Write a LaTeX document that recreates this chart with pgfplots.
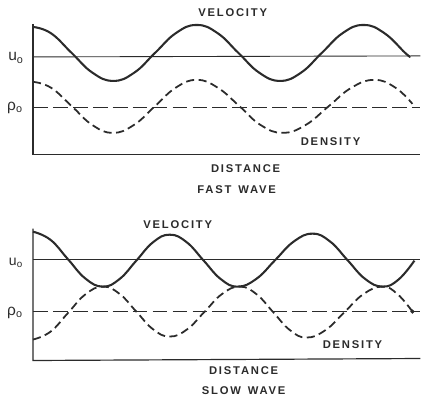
\documentclass[border=0pt]{standalone}
\usepackage{fontspec}
\setmainfont{Liberation Sans}
\newfontfamily\lab[LetterSpace=16]{Liberation Sans}
\usepackage{pgfplots}
\pgfplotsset{compat=1.18}
\definecolor{ink}{HTML}{2B2B2B}
\begin{document}
\begin{tikzpicture}
\begin{axis}[
    scale only axis,
    width=10cm, height=9.454cm,
    xmin=0, xmax=421, ymin=0, ymax=398,
    y dir=reverse,
    hide axis,
    clip=false,
    every axis plot/.append style={ink},
    nodes={font=\lab\bfseries\fontsize{7.6}{8}\selectfont, text=ink},
]
\path (axis cs:0,0) rectangle (axis cs:421,398);

% ---- fast wave: frame and reference lines
\addplot[line width=0.8pt] coordinates {(33,24) (33,155) (421,155)};
\addplot[line width=0.6pt] coordinates {(33,57) (421,56)};
\addplot[line width=0.6pt, dash pattern=on 10pt off 3.5pt] coordinates {(33,108) (421,108)};

% velocity (fast)
\addplot[line width=1.4pt, smooth, tension=0.75] coordinates {
    (33,27) (50.9,33.2) (71.75,53) (92.6,72.8) (113.5,81) (134.4,72.8)
    (155.25,53) (176.1,33.2) (197,25) (217.9,33.2) (238.75,53) (259.6,72.8)
    (280.5,81) (301.4,72.8) (322.25,53) (343.1,33.2) (364,25) (384.9,33.2)
    (405.75,53) (411,57)
};
% density (fast)
\addplot[line width=1.2pt, smooth, tension=0.75, dash pattern=on 5.5pt off 3pt] coordinates {
    (33,82) (51,87.8) (72,106.5) (92.5,125.2) (113,133) (134,125.2)
    (155,106.5) (176,87.8) (197,80) (218,87.8) (240,106.5) (261,125.2)
    (283,133) (306,125.2) (329,106.5) (352,87.8) (375,80) (396,87.8)
    (413,104)
};

\node at (axis cs:233,13) {VELOCITY};
\node at (axis cs:331,142) {DENSITY};
\node at (axis cs:246,169) {DISTANCE};
\node at (axis cs:237,190) {FAST\hspace{0.6em}WAVE};
\node[font=\fontsize{10.5}{10}\selectfont] at (axis cs:16,58) {u\textsubscript{o}};
\node[font=\fontsize{10.5}{10}\selectfont] at (axis cs:15,108) {ρ\textsubscript{o}};

% ---- slow wave: frame and reference lines
\addplot[line width=0.8pt] coordinates {(33,229) (33,361) (421,359)};
\addplot[line width=0.6pt] coordinates {(33,260) (421,260)};
\addplot[line width=0.6pt, dash pattern=on 10pt off 3.5pt] coordinates {(33,312) (421,312)};

% velocity (slow)
\addplot[line width=1.4pt, smooth, tension=0.75] coordinates {
    (33,232) (50.5,240.1) (68,259.5) (85.5,278.9) (103,287)
    (119.75,279.4) (136.5,261) (153.25,242.6) (170,235)
    (187,242.6) (204,261) (221,279.4) (238,287)
    (256.75,279.2) (275.5,260.5) (294.25,241.8) (313,234)
    (330.5,241.8) (348,260.5) (365.5,279.2) (383,287)
    (399,280) (415,261)
};
% density (slow)
\addplot[line width=1.2pt, smooth, tension=0.75, dash pattern=on 5.5pt off 3pt] coordinates {
    (33,340) (50.5,332.2) (68,313.5) (85.5,294.8) (103,287)
    (119.75,294.3) (136.5,312) (153.25,329.7) (170,337)
    (187.5,329.7) (205,312) (222.5,294.3) (240,287)
    (256.75,294.5) (273.5,312.5) (290.25,330.5) (307,338)
    (326,330.5) (345,312.5) (364,294.5) (383,287)
    (398,294.5) (413,312)
};
\addplot[only marks, mark=*, mark size=1.2pt] coordinates {(413,312)};

\node at (axis cs:178,225) {VELOCITY};
\node at (axis cs:353,345) {DENSITY};
\node at (axis cs:244,371) {DISTANCE};
\node at (axis cs:244,391) {SLOW\hspace{0.6em}WAVE};
\node[font=\fontsize{9.5}{9}\selectfont] at (axis cs:16,263) {u\textsubscript{o}};
\node[font=\fontsize{10.5}{10}\selectfont] at (axis cs:15,313) {ρ\textsubscript{o}};
\end{axis}
\end{tikzpicture}
\end{document}
